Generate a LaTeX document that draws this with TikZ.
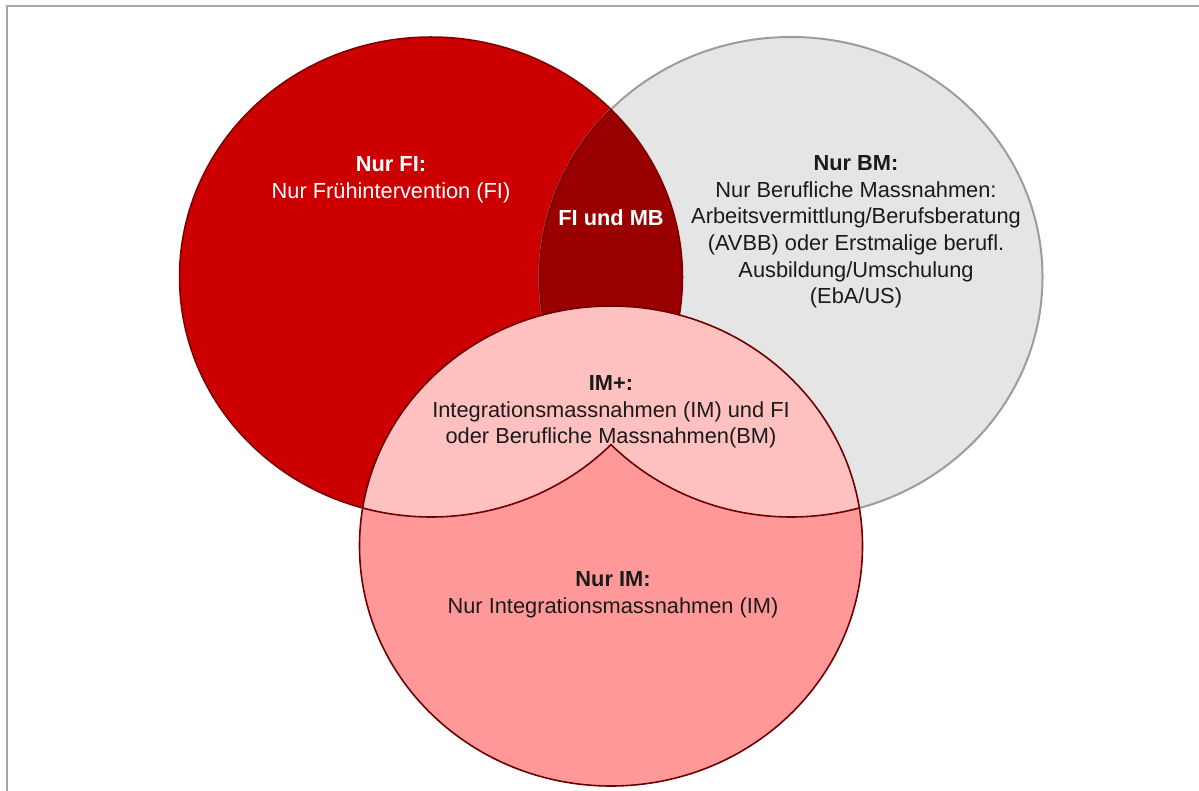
\documentclass[tikz,border=0pt]{standalone}
\usepackage{fontspec}
\setmainfont{Liberation Sans}
\usepackage{xcolor}
\usepackage{tikz}
\definecolor{fired}{HTML}{CC0000}
\definecolor{bothred}{HTML}{9A0000}
\definecolor{bmgray}{HTML}{E5E5E5}
\definecolor{grayline}{HTML}{9C9C9C}
\definecolor{redline}{HTML}{7A0000}
\definecolor{impink}{HTML}{FF9999}
\definecolor{implus}{HTML}{FFC0C0}
\definecolor{pinkline}{HTML}{6E0000}
\definecolor{framegray}{HTML}{A6A6A6}
\definecolor{text}{HTML}{1A1A1A}
\tikzset{
  label/.style={align=center, inner sep=0pt, font=\fontsize{10.9}{13.3}\selectfont},
  whitelabel/.style={label, text=white},
  darklabel/.style={label, text=text},
  redrim/.style={draw=redline, line width=0.75pt},
  grayrim/.style={draw=grayline, line width=1pt},
  pinkrim/.style={draw=pinkline, line width=0.8pt}
}
\newcommand{\rx}{125.75pt}
\newcommand{\ry}{120pt}
\def\ficircle{(ficenter) ellipse [x radius=\rx, y radius=\ry]}
\def\bmcircle{(bmcenter) ellipse [x radius=\rx, y radius=\ry]}
\def\imcircle{(imcenter) ellipse [x radius=\rx, y radius=\ry]}

\begin{document}
\begin{tikzpicture}[x=0.5pt, y=-0.5pt]
  \useasboundingbox (0,0) rectangle (1199,791);
  \fill[white] (0,0) rectangle (1199,791);
  \draw[framegray, line width=0.75pt] (7,791) -- (7,6) -- (1199,6);

  \coordinate (ficenter) at (431,277);
  \coordinate (bmcenter) at (791,277);
  \coordinate (imcenter) at (611,546);

  % upper two circles
  \fill[fired] \ficircle;
  \fill[bmgray] \bmcircle;
  \draw[grayrim] \bmcircle;
  \begin{scope}
    \clip \ficircle;
    \fill[bothred] \bmcircle;
    \draw[redrim] \bmcircle;
  \end{scope}
  \draw[redrim] \ficircle;

  % lower circle
  \fill[impink] \imcircle;
  \begin{scope}
    \clip \imcircle;
    \fill[implus] \ficircle;
    \fill[implus] \bmcircle;
  \end{scope}

  % V inside the lower circle
  \path (ficenter) ++(-105.76:125.75pt and 120pt) coordinate (vleft);
  \draw[pinkrim] (vleft)
    arc[start angle=-105.76, end angle=-44.3, x radius=\rx, y radius=\ry]
    arc[start angle=-135.7, end angle=-74.24, x radius=\rx, y radius=\ry];
  \draw[pinkrim] \imcircle;

  % texts
  \node[whitelabel] (fitext) at (391,180) {\textbf{Nur FI:}\\Nur Frühintervention (FI)};
  \node[whitelabel] (bothtext) at (611,218) {\textbf{FI und MB}};
  \node[darklabel] (bmtext) at (856,232) {\textbf{Nur BM:}\\Nur Berufliche Massnahmen:\\Arbeitsvermittlung/Berufsberatung\\(AVBB) oder Erstmalige berufl.\\Ausbildung/Umschulung\\(EbA/US)};
  \node[darklabel] (plustext) at (611,412) {\textbf{IM+:}\\Integrationsmassnahmen (IM) und FI\\oder Berufliche Massnahmen(BM)};
  \node[darklabel] (imtext) at (613,595) {\textbf{Nur IM:}\\Nur Integrationsmassnahmen (IM)};
\end{tikzpicture}
\end{document}
